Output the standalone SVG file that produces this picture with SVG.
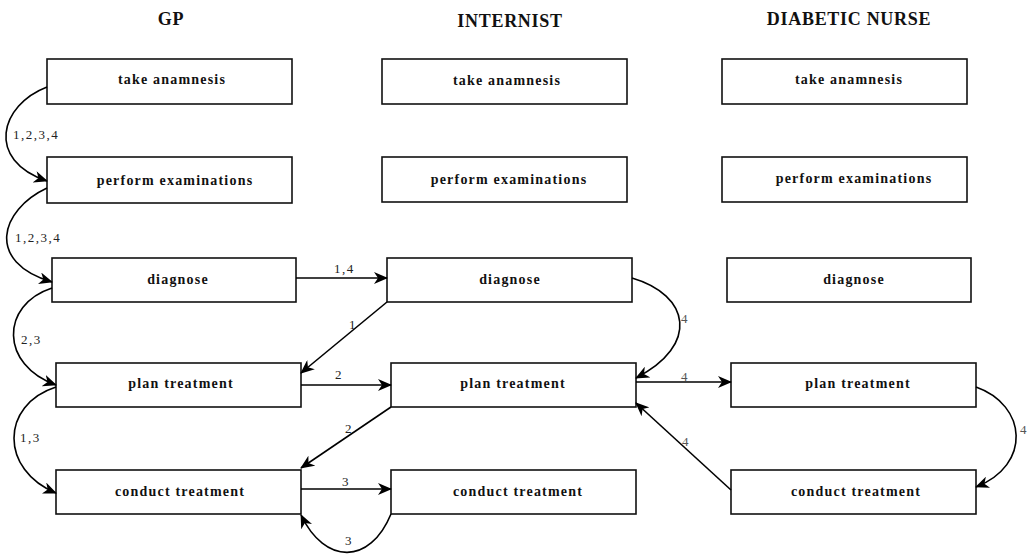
<svg xmlns="http://www.w3.org/2000/svg" width="1029" height="554" viewBox="0 0 1029 554">
<style>
.hdr{font-family:"Liberation Serif","Times New Roman",serif;font-weight:bold;font-size:18px;letter-spacing:0.7px;fill:#111;text-anchor:middle}
.box{fill:#fff;stroke:#111;stroke-width:1.6}
.nt{font-family:"Liberation Serif","Times New Roman",serif;font-weight:bold;font-size:14px;letter-spacing:1.2px;fill:#111;text-anchor:middle}
.edge{fill:none;stroke:#000;stroke-width:1.6;marker-end:url(#ah)}
.lbl{font-family:"Liberation Serif","Times New Roman",serif;font-size:13px;letter-spacing:1.5px;fill:#222}
.l4{fill:#555}
</style>
<defs>
<marker id="ah" viewBox="0 0 14 12" refX="13" refY="6" markerWidth="14" markerHeight="12" markerUnits="userSpaceOnUse" orient="auto">
<path d="M0,0 L14,6 L0,12 L4,6 z" fill="#000"/>
</marker>
</defs>
<g id="headers">
<text class="hdr" x="171" y="25">GP</text>
<text class="hdr" x="510" y="27">INTERNIST</text>
<text class="hdr" x="849" y="25">DIABETIC NURSE</text>
</g>
<g id="gp-take"><rect class="box" x="47" y="59" width="245" height="45"/><text class="nt" x="172" y="84">take anamnesis</text></g>
<g id="gp-perform"><rect class="box" x="47" y="157" width="245" height="46"/><text class="nt" x="175" y="185">perform examinations</text></g>
<g id="gp-diagnose"><rect class="box" x="52" y="258" width="244" height="44"/><text class="nt" x="178" y="284">diagnose</text></g>
<g id="gp-plan"><rect class="box" x="56" y="363" width="245" height="44"/><text class="nt" x="181" y="388">plan treatment</text></g>
<g id="gp-conduct"><rect class="box" x="56" y="470" width="245" height="44"/><text class="nt" x="180" y="496">conduct treatment</text></g>
<g id="in-take"><rect class="box" x="382" y="59" width="245" height="45"/><text class="nt" x="507" y="85">take anamnesis</text></g>
<g id="in-perform"><rect class="box" x="382" y="157" width="245" height="45"/><text class="nt" x="509" y="184">perform examinations</text></g>
<g id="in-diagnose"><rect class="box" x="387" y="258" width="245" height="44"/><text class="nt" x="510" y="284">diagnose</text></g>
<g id="in-plan"><rect class="box" x="391" y="363" width="245" height="44"/><text class="nt" x="513" y="388">plan treatment</text></g>
<g id="in-conduct"><rect class="box" x="391" y="470" width="245" height="44"/><text class="nt" x="518" y="496">conduct treatment</text></g>
<g id="dn-take"><rect class="box" x="722" y="59" width="245" height="45"/><text class="nt" x="849" y="84">take anamnesis</text></g>
<g id="dn-perform"><rect class="box" x="722" y="157" width="245" height="45"/><text class="nt" x="854" y="183">perform examinations</text></g>
<g id="dn-diagnose"><rect class="box" x="727" y="258" width="244" height="44"/><text class="nt" x="854" y="284">diagnose</text></g>
<g id="dn-plan"><rect class="box" x="731" y="363" width="245" height="44"/><text class="nt" x="858" y="388">plan treatment</text></g>
<g id="dn-conduct"><rect class="box" x="731" y="470" width="245" height="44"/><text class="nt" x="856" y="496">conduct treatment</text></g>
<g id="connectors">
<path class="edge" d="M47,87 C0,105 -15,160 47,181"/>
<path class="edge" d="M47,188 C0,210 -15,262 52,282"/>
<path class="edge" d="M296,278 L387,278"/>
<path class="edge" d="M52,288 C0,305 0,365 56,385"/>
<path class="edge" d="M387,302 L301,373"/>
<path class="edge" d="M301,385 L391,385"/>
<path class="edge" d="M56,387 C0,405 0,470 56,493"/>
<path class="edge" d="M391,407 L301,468"/>
<path class="edge" d="M301,489 L391,489"/>
<path class="edge" d="M391,514 C370,565 325,565 301,515"/>
<path class="edge" d="M632,278 C690,295 700,345 636,378"/>
<path class="edge" d="M636,382 L731,382"/>
<path class="edge" d="M976,387 C1027,405 1032,465 976,487"/>
<path class="edge" d="M731,490 L636,403"/>
<text class="lbl" x="13" y="139">1,2,3,4</text>
<text class="lbl" x="15" y="242">1,2,3,4</text>
<text class="lbl" x="334" y="273">1,4</text>
<text class="lbl" x="21" y="344">2,3</text>
<text class="lbl" x="349" y="329">1</text>
<text class="lbl" x="335" y="379">2</text>
<text class="lbl" x="20" y="442">1,3</text>
<text class="lbl" x="345" y="433">2</text>
<text class="lbl" x="342" y="486">3</text>
<text class="lbl" x="345" y="545">3</text>
<text class="lbl l4" x="681" y="323">4</text>
<text class="lbl l4" x="681" y="381">4</text>
<text class="lbl l4" x="1020" y="434">4</text>
<text class="lbl l4" x="682" y="446">4</text>
</g>
</svg>
